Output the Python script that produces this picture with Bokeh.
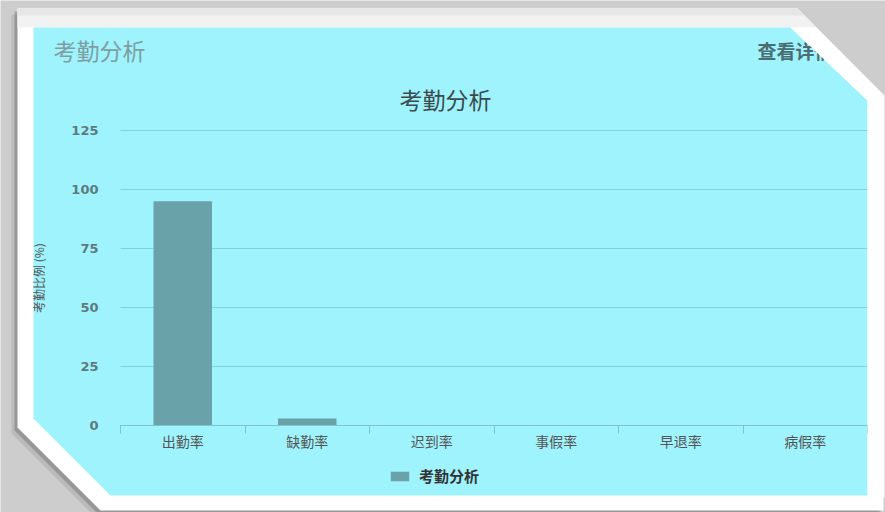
from bokeh.plotting import figure
from bokeh.models import Range1d, FixedTicker, Label, PolyAnnotation, LinearAxis
from bokeh.embed import file_html
from bokeh.resources import INLINE

# ---- data ----
categories = ["出勤率", "缺勤率", "迟到率", "事假率", "早退率", "病假率"]
values = [95, 3, 0, 0, 0, 0]
y_ticks = [0, 25, 50, 75, 100, 125]
panel_title = "考勤分析"
link_text = "查看详情"
chart_title = "考勤分析"
series_name = "考勤分析"
y_label = "考勤比例 (%)"

CJK = "Noto Sans CJK SC"

W, H = 885, 512
# plot area in canvas pixels
PL, PR, PT, PB = 120, 867, 130, 425
n = len(categories)
ymax = y_ticks[-1]
xs_per = (PR - PL) / n
ys_per = (PB - PT) / ymax
x_range = Range1d(-PL / xs_per, n + (W - PR) / xs_per)
y_range = Range1d(-(H - PB) / ys_per, ymax + PT / ys_per)

p = figure(width=W, height=H, x_range=x_range, y_range=y_range,
           output_backend="svg", toolbar_location=None,
           x_axis_type=None, y_axis_type=None,
           min_border=0, min_border_left=0, min_border_right=0,
           min_border_top=0, min_border_bottom=0,
           background_fill_color="#cdcdcd", border_fill_color="#cdcdcd",
           outline_line_color=None)


def poly(pts, color, level="image", alpha=1.0):
    p.add_layout(PolyAnnotation(xs=[a for a, b in pts], ys=[b for a, b in pts],
                                xs_units="canvas", ys_units="canvas",
                                fill_color=color, fill_alpha=alpha,
                                line_color=None, level=level))


outer = [(17, 8), (797, 8), (883, 95), (883, 510), (100, 510), (17, 427)]
# shadows
poly([(x - 6, y + 6) for x, y in outer], "#555555", alpha=0.15)
poly([(x - 3, y + 3) for x, y in outer], "#555555", alpha=0.35)
# white frame
poly(outer, "#ffffff")
poly([(17, 8), (797, 8), (816, 27), (17, 27)], "#f2f2f2")
poly([(17, 8), (797, 8), (804, 15), (17, 15)], "#e6e6e6")
# cyan panel
poly([(33, 27), (790, 27), (867, 100), (867, 495), (110, 495), (33, 418)], "#9ff3fd")

# horizontal grid lines over the category span
p.segment(x0=[0] * len(y_ticks), x1=[n] * len(y_ticks), y0=y_ticks, y1=y_ticks,
          line_color="#84d0da", line_width=1, level="underlay")

# bars
centers = [i + 0.5 for i in range(n)]
p.vbar(x=centers, top=values, width=0.47, fill_color="#69a3a9",
       line_color=None, legend_label=series_name)

# x axis
xaxis = LinearAxis(ticker=FixedTicker(ticks=centers, minor_ticks=list(range(n + 1))),
                   fixed_location=0, bounds=(0, n),
                   major_label_overrides={c: cat for c, cat in zip(centers, categories)},
                   major_tick_out=0, major_tick_in=0,
                   minor_tick_out=8, minor_tick_in=0,
                   minor_tick_line_color="#7fc3cb", axis_line_color="#7fc3cb",
                   major_label_text_font=CJK, major_label_text_font_size="14px",
                   major_label_text_color="#555555", major_label_standoff=-3)
p.add_layout(xaxis, "below")

# y axis
yaxis = LinearAxis(ticker=FixedTicker(ticks=y_ticks), fixed_location=0, bounds=(0, ymax),
                   major_tick_out=0, major_tick_in=0, minor_tick_out=0, minor_tick_in=0,
                   axis_line_color=None, major_label_standoff=22,
                   major_label_text_font="DejaVu Sans", major_label_text_font_style="bold",
                   major_label_text_font_size="13px", major_label_text_color="#5e7a7e",
                   axis_label=y_label, axis_label_text_font=CJK,
                   axis_label_text_font_size="12px", axis_label_text_font_style="normal",
                   axis_label_text_color="#555555", axis_label_standoff=21)
p.add_layout(yaxis, "left")

# texts
p.add_layout(Label(x=53, y=49, x_units="canvas", y_units="canvas", text=panel_title,
                   text_font=CJK, text_font_size="23px", text_color="#7d9ea2",
                   text_baseline="middle"))
p.add_layout(Label(x=757, y=50, x_units="canvas", y_units="canvas", text=link_text,
                   text_font=CJK, text_font_size="19px", text_font_style="bold",
                   text_color="#4a6d72", text_baseline="middle"))
p.add_layout(Label(x=445, y=98, x_units="canvas", y_units="canvas", text=chart_title,
                   text_font=CJK, text_font_size="23px", text_color="#3b4b4d",
                   text_baseline="middle", text_align="center"))

# right corner overlay (clips the link text and grid ends)
poly([(790, 27), (867, 100), (867, 497), (884, 497), (884, 95), (816, 27)], "#ffffff", level="overlay")

# legend
lg = p.legend[0]
lg.location = (388, 26)
lg.border_line_color = None
lg.background_fill_alpha = 0
lg.padding = 5
lg.glyph_width = 23
lg.glyph_height = 12
lg.label_height = 20
lg.label_standoff = 8
lg.label_text_font = CJK
lg.label_text_font_size = "15px"
lg.label_text_font_style = "bold"
lg.label_text_color = "#333333"

with open("out.html", "w", encoding="utf-8") as f:
    f.write(file_html(p, INLINE))
